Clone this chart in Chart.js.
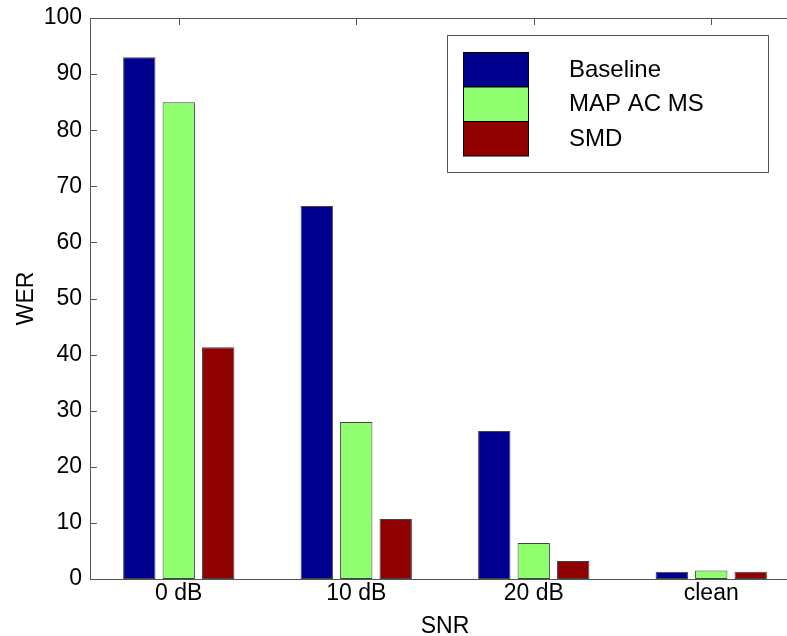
<!DOCTYPE html>
<html>
<head>
<meta charset="utf-8">
<script src="https://cdn.jsdelivr.net/npm/chart.js@4.4.1/dist/chart.umd.min.js"></script>
<style>
    html, body { margin: 0; padding: 0; background: #fff; overflow: hidden; width: 787px; height: 636px; }
    #wrap { width: 812px; height: 636px; position: relative; }
</style>
</head>
<body>
<div id="wrap"><canvas id="grafico"></canvas></div>
<script>
const categorias = ['0 dB', '10 dB', '20 dB', 'clean'];
const baseline = [93.0, 66.5, 26.4, 1.3];
const mapAcMs = [85.0, 28.0, 6.4, 1.5];
const smd = [41.3, 10.7, 3.2, 1.3];
const nomesSeries = ['Baseline', 'MAP AC MS', 'SMD'];
const coresSeries = ['#00008F', '#8FFF70', '#8F0000'];
const yTicks = [0, 10, 20, 30, 40, 50, 60, 70, 80, 90, 100];

const FONTE = '"Liberation Sans", Arial, sans-serif';
const COR_EIXO = '#555';

// caixa do eixo com ticks para dentro (estilo MATLAB)
const caixaEixos = {
    id: 'caixaEixos',
    beforeDatasetsDraw(chart) {
        const { ctx, chartArea: a, scales: { x, y } } = chart;
        ctx.save();
        ctx.strokeStyle = COR_EIXO;
        ctx.lineWidth = 1;
        ctx.beginPath();
        yTicks.forEach(v => {
            const py = Math.round(y.getPixelForValue(v)) + 0.5;
            ctx.moveTo(a.left, py); ctx.lineTo(a.left + 7, py);
            ctx.moveTo(a.right, py); ctx.lineTo(a.right - 7, py);
        });
        categorias.forEach((c, i) => {
            const px = Math.round(x.getPixelForValue(i)) + 0.5;
            ctx.moveTo(px, a.top); ctx.lineTo(px, a.top + 7);
            ctx.moveTo(px, a.bottom); ctx.lineTo(px, a.bottom - 7);
        });
        ctx.stroke();
        ctx.restore();
    },
    afterDatasetsDraw(chart) {
        const { ctx, chartArea: a } = chart;
        ctx.save();
        ctx.strokeStyle = COR_EIXO;
        ctx.lineWidth = 1;
        ctx.strokeRect(Math.round(a.left) + 0.5, Math.round(a.top) + 0.5,
            Math.round(a.right - a.left), Math.round(a.bottom - a.top));
        ctx.restore();
    }
};

// legenda desenhada à mão, caixa no canto superior direito
const legendaCaixa = {
    id: 'legendaCaixa',
    afterDraw(chart) {
        const ctx = chart.ctx;
        ctx.save();
        ctx.fillStyle = '#fff';
        ctx.fillRect(447, 35, 321, 137);
        ctx.strokeStyle = COR_EIXO;
        ctx.lineWidth = 1;
        ctx.strokeRect(447.5, 35.5, 321, 137);
        const tops = [52.5, 87, 121.5];
        chart.data.datasets.forEach((ds, i) => {
            ctx.fillStyle = ds.backgroundColor;
            ctx.fillRect(463, tops[i], 65, 34.5);
            ctx.strokeStyle = '#000';
            ctx.strokeRect(463.5, tops[i], 65, 34.5);
            ctx.fillStyle = '#000';
            ctx.font = '24px ' + FONTE;
            ctx.textBaseline = 'middle';
            ctx.textAlign = 'left';
            ctx.fillText(ds.label, 569, tops[i] + 17.5);
        });
        ctx.restore();
    }
};

new Chart(document.getElementById('grafico'), {
    type: 'bar',
    data: {
        labels: categorias,
        datasets: [
            { label: nomesSeries[0], data: baseline, backgroundColor: coresSeries[0] },
            { label: nomesSeries[1], data: mapAcMs, backgroundColor: coresSeries[1] },
            { label: nomesSeries[2], data: smd, backgroundColor: coresSeries[2] }
        ]
    },
    options: {
        responsive: true,
        maintainAspectRatio: false,
        animation: false,
        layout: { padding: { top: 18, left: 13, right: 12, bottom: 0 } },
        datasets: {
            bar: {
                categoryPercentage: 0.667,
                barPercentage: 0.82,
                borderColor: '#444',
                borderWidth: 1,
                borderSkipped: false
            }
        },
        plugins: {
            legend: { display: false },
            tooltip: { enabled: false }
        },
        scales: {
            x: {
                grid: { display: false, drawTicks: false },
                border: { display: false },
                ticks: { color: '#000', padding: 1, font: { family: FONTE, size: 23 } },
                title: { display: true, text: 'SNR', color: '#000', font: { family: FONTE, size: 23, lineHeight: 0.85 }, padding: 0 },
                afterFit: s => { s.height = 57; s.paddingLeft = 0; s.paddingRight = 0; }
            },
            y: {
                min: 0,
                max: 100,
                grid: { display: false, drawTicks: false },
                border: { display: false },
                afterBuildTicks: s => { s.ticks = yTicks.map(v => ({ value: v })); },
                ticks: { color: '#000', padding: 8, font: { family: FONTE, size: 23 } },
                title: { display: true, text: 'WER', color: '#000', font: { family: FONTE, size: 23 }, padding: 0 },
                afterFit: s => { s.width = 77; s.paddingTop = 0; s.paddingBottom = 0; }
            }
        }
    },
    plugins: [caixaEixos, legendaCaixa]
});
</script>
</body>
</html>
